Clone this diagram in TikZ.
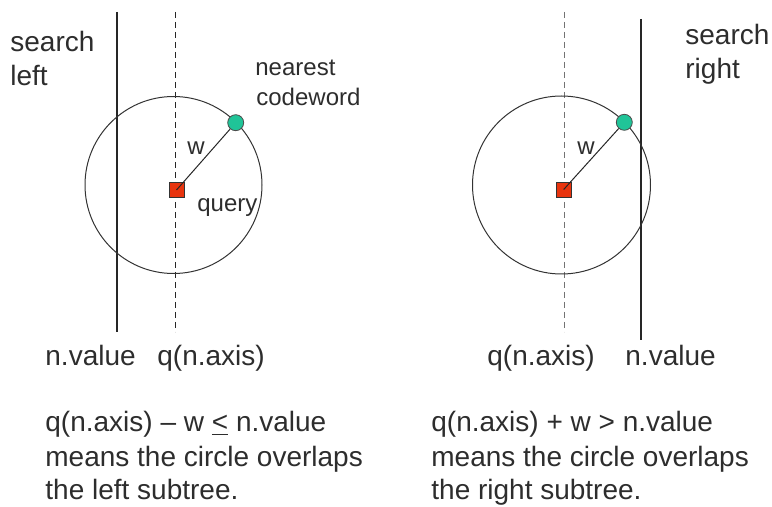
\documentclass[tikz,border=0pt]{standalone}
\usepackage{fontspec}
\setmainfont{Liberation Sans}
\usepackage{tikz}

\definecolor{queryred}{RGB}{232,52,14}
\definecolor{codegreen}{RGB}{32,196,152}
\definecolor{txtgray}{RGB}{45,45,45}

\tikzset{
  big/.style={inner sep=0pt, anchor=base west, text=txtgray, font=\fontsize{14}{17}\selectfont},
  small/.style={inner sep=0pt, anchor=base west, text=txtgray, font=\fontsize{12}{15}\selectfont},
  qbox/.style={draw=black!80, line width=0.4pt, fill=queryred, minimum size=7.5pt, inner sep=0pt},
  cword/.style={draw=black!70, line width=0.4pt, fill=codegreen, circle, minimum size=8pt, inner sep=0pt},
  split/.style={line width=0.6pt, black!85},
  axisline/.style={line width=0.5pt, dash pattern=on 3pt off 2pt},
  ring/.style={line width=0.5pt, black!80}
}

\begin{document}
\begin{tikzpicture}[x=0.5pt, y=-0.5pt]
    \useasboundingbox (0,0) rectangle (772,507);

    % Left case: search left
    \coordinate (lvtop) at (117,12);
    \coordinate (lvbot) at (117,332);
    \coordinate (latop) at (175,12);
    \coordinate (labot) at (175,332);
    \coordinate (lcen) at (173.5,185);
    \draw[split] (lvtop) -- (lvbot);
    \draw[axisline, black!85] (latop) -- (labot);
    \draw[ring] (lcen) circle[radius=44.25pt];
    \node[qbox] (lquery) at (176.5,190) {};
    \node[cword] (lword) at (235.7,122.7) {};
    \draw[line width=0.5pt, black!85] (lquery.center) -- (lword);

    \node[big] (lsearch) at (10,52) {search};
    \node[big] (lleft) at (10,86) {left};
    \node[small] (lnear) at (255,76) {nearest};
    \node[small] (lcode) at (256,106) {codeword};
    \node[small] (lw) at (187,155) {w};
    \node[small] (lq) at (197,212) {query};
    \node[big] (lval) at (45,366) {n.value};
    \node[big] (laxis) at (157,366) {q(n.axis)};

    \node[big] (lrule1) at (45,432) {q(n.axis) – w \underline{<} n.value};
    \node[big] (lrule2) at (45,466.5) {means the circle overlaps};
    \node[big] (lrule3) at (45,500) {the left subtree.};

    % Right case: search right
    \coordinate (ratop) at (564,12);
    \coordinate (rabot) at (564,332);
    \coordinate (rvtop) at (641,19);
    \coordinate (rvbot) at (641,340);
    \coordinate (rcen) at (561.5,185);
    \draw[axisline, black!55] (ratop) -- (rabot);
    \draw[split] (rvtop) -- (rvbot);
    \draw[ring] (rcen) circle[radius=44.5pt];
    \node[qbox] (rquery) at (563.7,189.5) {};
    \node[cword] (rword) at (624.3,122.3) {};
    \draw[line width=0.5pt, black!85] (rquery.center) -- (rword);

    \node[big] (rsearch) at (685,45) {search};
    \node[big] (rright) at (685,79) {right};
    \node[small] (rw) at (577,155) {w};
    \node[big] (raxis) at (487,366) {q(n.axis)};
    \node[big] (rval) at (625,366) {n.value};

    \node[big] (rrule1) at (431,432) {q(n.axis) + w > n.value};
    \node[big] (rrule2) at (431,466.5) {means the circle overlaps};
    \node[big] (rrule3) at (431,500) {the right subtree.};
\end{tikzpicture}
\end{document}
